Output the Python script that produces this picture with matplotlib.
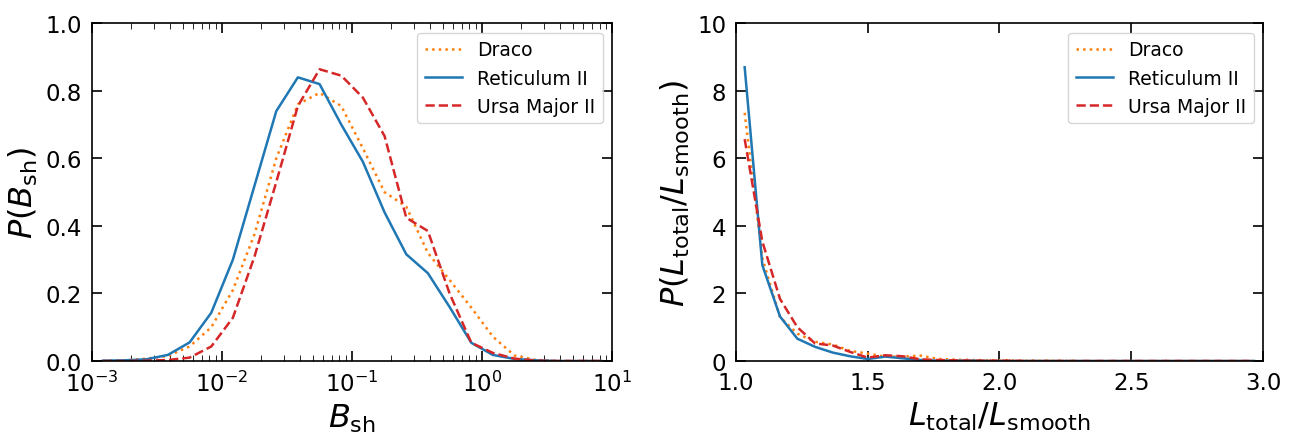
import numpy as np
import matplotlib
matplotlib.use("Agg")
import matplotlib.pyplot as plt
from matplotlib.ticker import MultipleLocator

# left panel: bin centres in log10(B_sh), 6 bins per decade
log_bsh = [-2.917, -2.750, -2.583, -2.417, -2.250, -2.083, -1.917, -1.750,
           -1.583, -1.417, -1.250, -1.083, -0.917, -0.750, -0.583, -0.417,
           -0.250, -0.083, 0.083, 0.250, 0.417, 0.583, 0.750, 0.917]

p_bsh_draco = [0.000, 0.002, 0.007, 0.015, 0.043, 0.100, 0.210, 0.376,
               0.600, 0.760, 0.794, 0.755, 0.630, 0.500, 0.457, 0.320,
               0.240, 0.158, 0.072, 0.016, 0.003, 0.000, 0.000, 0.000]
p_bsh_ret2 = [0.001, 0.002, 0.005, 0.018, 0.055, 0.143, 0.300, 0.520,
              0.740, 0.840, 0.820, 0.700, 0.590, 0.440, 0.316, 0.260,
              0.160, 0.054, 0.018, 0.006, 0.002, 0.000, 0.000, 0.000]
p_bsh_uma2 = [0.000, 0.000, 0.001, 0.003, 0.010, 0.043, 0.128, 0.310,
              0.530, 0.755, 0.864, 0.845, 0.780, 0.666, 0.424, 0.385,
              0.200, 0.054, 0.024, 0.007, 0.001, 0.000, 0.000, 0.000]

# right panel: bin centres in L_total/L_smooth
ratio = [1.033, 1.100, 1.167, 1.233, 1.300, 1.367, 1.433, 1.500, 1.567, 1.633,
         1.700, 1.767, 1.833, 1.900, 1.967, 2.033, 2.100, 2.167, 2.233, 2.300,
         2.367, 2.433, 2.500, 2.567, 2.633, 2.700, 2.767, 2.833, 2.900, 2.967]

p_ratio_draco = [7.35, 3.05, 1.30, 0.81, 0.57, 0.49, 0.30, 0.22, 0.13, 0.13,
                 0.16, 0.06, 0.04, 0.03, 0.02, 0.02, 0.01, 0.01, 0.01, 0.00,
                 0.00, 0.00, 0.00, 0.00, 0.00, 0.00, 0.00, 0.00, 0.00, 0.00]
p_ratio_ret2 = [8.70, 2.84, 1.32, 0.66, 0.42, 0.25, 0.14, 0.06, 0.13, 0.08,
                0.03, 0.01, 0.01, 0.01, 0.00, 0.00, 0.00, 0.00, 0.00, 0.00,
                0.00, 0.00, 0.00, 0.00, 0.00, 0.00, 0.00, 0.00, 0.00, 0.00]
p_ratio_uma2 = [6.57, 3.54, 1.84, 1.00, 0.52, 0.46, 0.27, 0.10, 0.17, 0.14,
                0.05, 0.03, 0.02, 0.01, 0.01, 0.01, 0.00, 0.00, 0.00, 0.00,
                0.00, 0.00, 0.00, 0.00, 0.00, 0.00, 0.00, 0.00, 0.00, 0.00]

labels = ["Draco", "Reticulum II", "Ursa Major II"]
styles = [(":", "tab:orange"), ("-", "tab:blue"), ("--", "tab:red")]

fig = plt.figure(figsize=(12.93, 4.35), dpi=100)
ax1 = fig.add_axes([0.0712, 0.1678, 0.4022, 0.7763])
ax2 = fig.add_axes([0.5692, 0.1678, 0.4076, 0.7763])

bsh = 10 ** np.array(log_bsh)
for y, lab, (ls, c) in zip([p_bsh_draco, p_bsh_ret2, p_bsh_uma2], labels, styles):
    ax1.plot(bsh, y, ls=ls, color=c, lw=1.8, label=lab)
ax1.set_xscale("log")
ax1.set_xlim(1e-3, 1e1)
ax1.set_ylim(0, 1)
ax1.set_xlabel(r"$B_{\rm sh}$", fontsize=23)
ax1.set_ylabel(r"$P(B_{\rm sh})$", fontsize=23)

for y, lab, (ls, c) in zip([p_ratio_draco, p_ratio_ret2, p_ratio_uma2], labels, styles):
    ax2.plot(ratio, y, ls=ls, color=c, lw=1.8, label=lab)
ax2.set_xlim(1, 3)
ax2.set_ylim(0, 10)
ax2.xaxis.set_major_locator(MultipleLocator(0.5))
ax2.set_xlabel(r"$L_{\rm total}/L_{\rm smooth}$", fontsize=23)
ax2.set_ylabel(r"$P(L_{\rm total}/L_{\rm smooth})$", fontsize=23)

for ax in (ax1, ax2):
    ax.tick_params(which="both", direction="in", top=True, right=True,
                   labelsize=16.5, pad=7)
    ax.tick_params(which="major", length=7, width=1.2)
    ax.tick_params(which="minor", length=4)
    for s in ax.spines.values():
        s.set_linewidth(1.2)
    ax.legend(loc="upper right", fontsize=13.5)

fig.savefig("out.png", dpi=100)
